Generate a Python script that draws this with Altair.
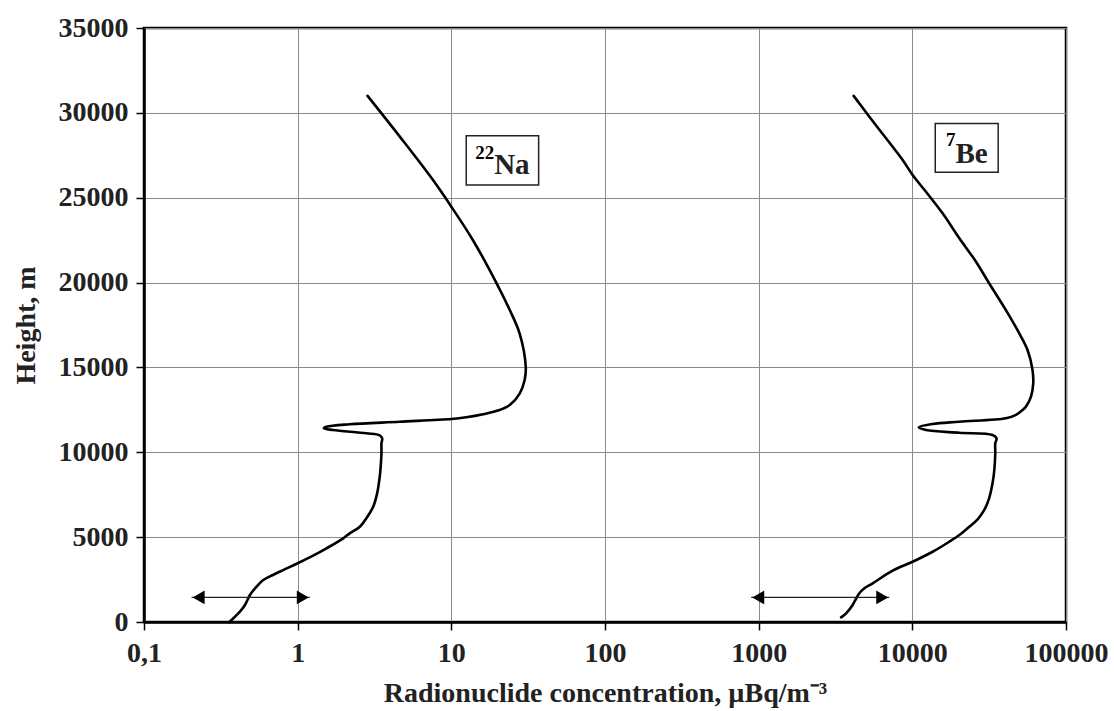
import altair as alt
import pandas as pd

# ---- data ----
na_conc = [2.85, 4.62, 7.6, 10.0, 13.8, 19.6, 24.0, 27.8, 30.5, 30.0, 27.9, 24.0, 20.6, 16.1, 12.5, 10.0,
           4.62, 2.18, 1.54, 1.48, 1.70, 2.8, 3.42, 3.55, 3.51, 3.51, 3.47, 3.42, 3.29, 3.1, 2.8, 2.54,
           2.18, 1.98, 1.54, 1.26, 1.0, 0.805, 0.69, 0.597, 0.54, 0.489, 0.477, 0.454, 0.421, 0.36]
na_height = [31000, 28600, 26040, 24470, 22510, 20000, 18380, 17010, 15040, 14260, 13475, 12785, 12490, 12240, 12060, 11960,
             11800, 11650, 11500, 11410, 11310, 11120, 11000, 10820, 10530, 9940, 9150, 8560, 7580, 6790, 6110, 5615,
             5225, 4930, 4340, 3910, 3460, 3060, 2770, 2475, 2080, 1590, 1395, 1000, 607, 0]

be_conc = [4150, 5254, 6745, 8650, 10040, 12270, 15740, 20230, 25960, 31600, 40640, 49650, 56200, 60550, 61200, 59200,
           54860, 52100, 47200, 40650, 20200, 13550, 11000, 12270, 20230, 33270, 35320, 34650, 34650, 34150, 33250,
           31600, 29400, 26600, 23500, 20230, 17400, 13550, 10040, 7450, 5520, 4875, 4520, 4256, 4090, 3707, 3440]
be_height = [31000, 29770, 28500, 27220, 26340, 25350, 24080, 22610, 21230, 19960, 18380, 17010, 16030, 14850, 14060, 13275,
             12690, 12490, 12200, 12000, 11800, 11670, 11470, 11310, 11150, 11020, 10820, 10530, 9940, 8955, 8170,
             7290, 6600, 6050, 5615, 5125, 4730, 4140, 3550, 3025, 2280, 1985, 1690, 1296, 1000, 513, 275]

# arrows (range markers near the ground)
arrow_left = [0.204, 894]
arrow_right = [1.2, 7080]
arrow_height = [1450, 1450]

# label boxes
box_names = ["22Na", "7Be"]
box_left = [12.5, 14100]
box_right = [37.0, 36200]
box_bottom = [25750, 26500]
box_top = [28650, 29380]
sup_text = ["22", "7"]
main_text = ["Na", "Be"]
label_x = [19.0, 19100]
sup_y = [27300, 28050]
main_y = [26400, 27060]

x_ticks = [0.1, 1, 10, 100, 1000, 10000, 100000]
y_ticks = [0, 5000, 10000, 15000, 20000, 25000, 30000, 35000]

FONT = "Liberation Serif"

# ---- tables ----
curves = pd.DataFrame({
    "conc": na_conc + be_conc,
    "height": na_height + be_height,
    "series": ["Na"] * len(na_conc) + ["Be"] * len(be_conc),
    "idx": list(range(len(na_conc))) + list(range(len(be_conc))),
})
arrows = pd.DataFrame({"x1": arrow_left, "x2": arrow_right, "y": arrow_height})
head_off = 10 ** 0.046
heads_l = pd.DataFrame({"x": [v * head_off for v in arrow_left], "y": arrow_height})
heads_r = pd.DataFrame({"x": [v / head_off for v in arrow_right], "y": arrow_height})
boxes = pd.DataFrame({"name": box_names, "x1": box_left, "x2": box_right, "y1": box_bottom, "y2": box_top,
                      "sup": sup_text, "main": main_text, "lx": label_x, "sy": sup_y, "my": main_y})

xscale = alt.Scale(type="log", domain=[0.1, 100000], nice=False)
yscale = alt.Scale(domain=[0, 35000], nice=False, zero=False)

x_axis = alt.Axis(
    values=x_ticks,
    labelExpr="datum.value < 0.5 ? '0,1' : format(datum.value, 'd')",
    title="Radionuclide concentration, µBq/m⁻³",
    grid=True,
)
y_axis = alt.Axis(values=y_ticks, format="d", title="Height, m", grid=True)


def X(field):
    return alt.X(field, type="quantitative", scale=xscale, axis=x_axis)


def Y(field):
    return alt.Y(field, type="quantitative", scale=yscale, axis=y_axis)


lines = alt.Chart(curves).mark_line(color="black", strokeWidth=2.6, interpolate="catmull-rom",
                                    strokeJoin="round", strokeCap="round").encode(
    x=X("conc"), y=Y("height"), order="idx:Q", detail="series:N")

arrow_lines = alt.Chart(arrows).mark_rule(color="#222222", strokeWidth=1.2).encode(
    x=X("x1"), x2="x2", y=Y("y"))
arrow_l = alt.Chart(heads_l).mark_point(shape="triangle-left", filled=True, color="black",
                                        size=190, opacity=1).encode(x=X("x"), y=Y("y"))
arrow_r = alt.Chart(heads_r).mark_point(shape="triangle-right", filled=True, color="black",
                                        size=190, opacity=1).encode(x=X("x"), y=Y("y"))

rects = alt.Chart(boxes).mark_rect(fill="white", stroke="#222222", strokeWidth=1.5).encode(
    x=X("x1"), x2="x2", y=Y("y1"), y2="y2")
sup = alt.Chart(boxes).mark_text(font=FONT, fontWeight="bold", fontSize=19, align="right",
                                 baseline="alphabetic", color="black").encode(
    x=X("lx"), y=Y("sy"), text="sup:N")
main = alt.Chart(boxes).mark_text(font=FONT, fontWeight="bold", fontSize=29, align="left",
                                  baseline="alphabetic", color="#222222").encode(
    x=X("lx"), y=Y("my"), text="main:N")

chart = alt.layer(lines, arrow_lines, arrow_l, arrow_r, rects, sup, main).properties(
    width=922, height=594,
    padding={"left": 144, "top": 28, "right": 48, "bottom": 89},
    autosize=alt.AutoSizeParams(type="none"),
    background="white",
).configure_view(
    stroke="black", strokeWidth=2.5
).configure_axis(
    labelFont=FONT, titleFont=FONT, labelFontWeight="bold", titleFontWeight="bold",
    labelFontSize=28, titleFontSize=28, labelColor="#222222", titleColor="#222222",
    domainColor="black", domainWidth=2.5, tickColor="black", tickWidth=1.5, tickSize=8,
    gridColor="#8a8a8a", gridWidth=1, gridOpacity=1, labelPadding=8, labelFlush=False,
).configure_axisX(
    titlePadding=12, labelPadding=9,
).configure_axisY(
    titlePadding=18,
)

chart.save("out.html", embed_options={"renderer": "svg", "actions": False})
